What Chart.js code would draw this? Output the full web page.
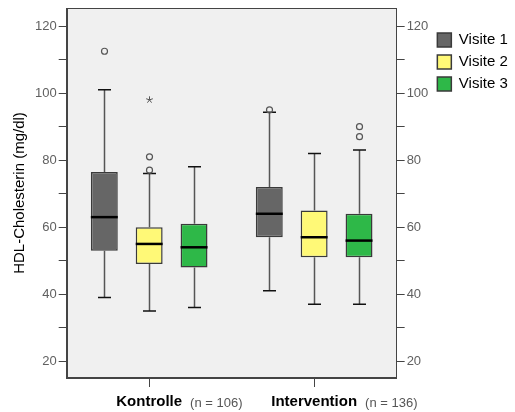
<!DOCTYPE html>
<html>
<head>
<meta charset="utf-8">
<script src="https://cdn.jsdelivr.net/npm/chart.js@4.4.0/dist/chart.umd.min.js"></script>
<style>
  html, body { margin: 0; padding: 0; background: #fff; }
  #wrap { width: 515px; height: 412px; }
</style>
</head>
<body>
<div id="wrap"><canvas id="chart" width="515" height="412"></canvas></div>
<script>
// categories and series
const categories = ['Kontrolle', 'Intervention'];
const sampleSizes = ['(n = 106)', '(n = 136)'];
const visits = ['Visite 1', 'Visite 2', 'Visite 3'];
const visitColors = ['#666666', '#fff977', '#2eb848'];

// one row per visit, one value per category
const whiskerLow  = [[39, 41], [35, 37], [36, 37]];
const q1          = [[53, 57], [49, 51], [48, 51]];
const medians     = [[63, 64], [55, 57], [54, 56]];
const q3          = [[76.5, 72], [60, 65], [61, 64]];
const whiskerHigh = [[101, 94.3], [76, 82], [78, 83]];
const outliers    = [[[112.5], [95]], [[81, 77], []], [[], [90, 87]]];
const extremes    = [[[], []], [[98], []], [[], []]];

const yTicks = [20, 30, 40, 50, 60, 70, 80, 90, 100, 110, 120];

Chart.defaults.font.family = '"Liberation Sans", Arial, sans-serif';

// whiskers, medians, outliers, frame and n-labels
const boxplotExtras = {
  id: 'boxplotExtras',
  beforeDraw(chart) {
    const {ctx, chartArea: a} = chart;
    ctx.save();
    ctx.fillStyle = '#f0f0f0';
    ctx.fillRect(a.left, a.top, a.width, a.height);
    ctx.restore();
  },
  afterDatasetsDraw(chart) {
    const ctx = chart.ctx;
    const y = chart.scales.y;
    const py = v => y.getPixelForValue(v);
    ctx.save();
    visits.forEach((v, d) => {
      const meta = chart.getDatasetMeta(d);
      meta.data.forEach((bar, i) => {
        const x = Math.round(bar.x) + 0.5;
        const w = bar.width;
        // whisker stems
        ctx.strokeStyle = '#555';
        ctx.lineWidth = 1.5;
        ctx.beginPath();
        ctx.moveTo(x, py(q3[d][i])); ctx.lineTo(x, py(whiskerHigh[d][i]));
        ctx.moveTo(x, py(q1[d][i])); ctx.lineTo(x, py(whiskerLow[d][i]));
        ctx.stroke();
        // caps
        ctx.strokeStyle = '#111';
        ctx.lineWidth = 1.5;
        ctx.beginPath();
        ctx.moveTo(x - 6.5, py(whiskerHigh[d][i])); ctx.lineTo(x + 6.5, py(whiskerHigh[d][i]));
        ctx.moveTo(x - 6.5, py(whiskerLow[d][i])); ctx.lineTo(x + 6.5, py(whiskerLow[d][i]));
        ctx.stroke();
        // median
        ctx.strokeStyle = '#000';
        ctx.lineWidth = 2.5;
        ctx.beginPath();
        ctx.moveTo(bar.x - w / 2, py(medians[d][i]));
        ctx.lineTo(bar.x + w / 2, py(medians[d][i]));
        ctx.stroke();
        // outliers (circles)
        ctx.strokeStyle = '#555';
        ctx.lineWidth = 1.2;
        outliers[d][i].forEach(o => {
          ctx.beginPath();
          ctx.arc(x, py(o), 3, 0, Math.PI * 2);
          ctx.stroke();
        });
        // extremes (stars)
        ctx.lineWidth = 1;
        extremes[d][i].forEach(o => {
          const cy = py(o);
          ctx.beginPath();
          for (let k = 0; k < 5; k++) {
            const ang = -Math.PI / 2 + k * 2 * Math.PI / 5;
            ctx.moveTo(x, cy);
            ctx.lineTo(x + 3.5 * Math.cos(ang), cy + 3.5 * Math.sin(ang));
          }
          ctx.stroke();
        });
      });
    });
    ctx.restore();
  },
  afterDraw(chart) {
    const {ctx, chartArea: a} = chart;
    ctx.save();
    ctx.strokeStyle = '#444';
    ctx.lineWidth = 1;
    ctx.strokeRect(Math.round(a.left) + 0.5, Math.round(a.top) + 0.5,
                   Math.round(a.width) - 1, Math.round(a.height) - 1);
    // sample sizes next to category labels
    const xs = chart.scales.x;
    const labelY = xs.top + 9 + 6 + 9;
    categories.forEach((c, i) => {
      ctx.font = 'bold 15px "Liberation Sans", Arial, sans-serif';
      const w = ctx.measureText(c).width;
      const px = xs.getPixelForValue(i);
      ctx.font = '13px "Liberation Sans", Arial, sans-serif';
      ctx.fillStyle = '#555';
      ctx.textAlign = 'left';
      ctx.textBaseline = 'middle';
      ctx.fillText(sampleSizes[i], px + w / 2 + 8, labelY + 1);
    });
    ctx.restore();
  }
};

const datasets = visits.map((v, d) => ({
  label: v,
  data: categories.map((c, i) => [q1[d][i], q3[d][i]]),
  backgroundColor: visitColors[d],
  borderColor: '#3a3a3a',
  borderWidth: 1.5,
  borderSkipped: false,
  categoryPercentage: 0.816,
  barPercentage: 0.6
}));

const yAxis = (position) => ({
  position: position,
  min: 15,
  max: 125.4,
  afterBuildTicks: s => { s.ticks = yTicks.map(v => ({value: v})); },
  afterFit: s => { s.paddingTop = 0; s.paddingBottom = 0; },
  ticks: {
    callback: v => (v % 20 === 0 ? v : ''),
    color: '#606060',
    font: {size: 13},
    padding: 2
  },
  grid: {drawOnChartArea: false, tickLength: 8, color: '#444', tickColor: '#444'},
  border: {display: true, color: '#444'}
});

new Chart(document.getElementById('chart'), {
  type: 'bar',
  data: {labels: categories, datasets: datasets},
  plugins: [boxplotExtras],
  options: {
    responsive: false,
    animation: false,
    layout: {padding: {left: 7, top: 8, right: 0, bottom: 0}},
    plugins: {
      tooltip: {enabled: false},
      legend: {
        position: 'right',
        align: 'start',
        title: {display: true, text: '', padding: {top: 0, bottom: 3}},
        labels: {
          boxWidth: 14,
          boxHeight: 14,
          padding: 7,
          color: '#000',
          font: {size: 15}
        }
      }
    },
    scales: {
      x: {
        afterFit: s => { s.height = 34; },
        ticks: {
          color: '#000',
          font: {size: 15, weight: 'bold'},
          padding: 6
        },
        grid: {drawOnChartArea: false, offset: false, tickLength: 9, color: '#444'},
        border: {display: true, color: '#444'}
      },
      y: Object.assign(yAxis('left'), {
        title: {
          display: true,
          text: 'HDL-Cholesterin (mg/dl)',
          color: '#000',
          font: {size: 15}
        }
      }),
      y2: yAxis('right')
    }
  }
});
</script>
</body>
</html>
